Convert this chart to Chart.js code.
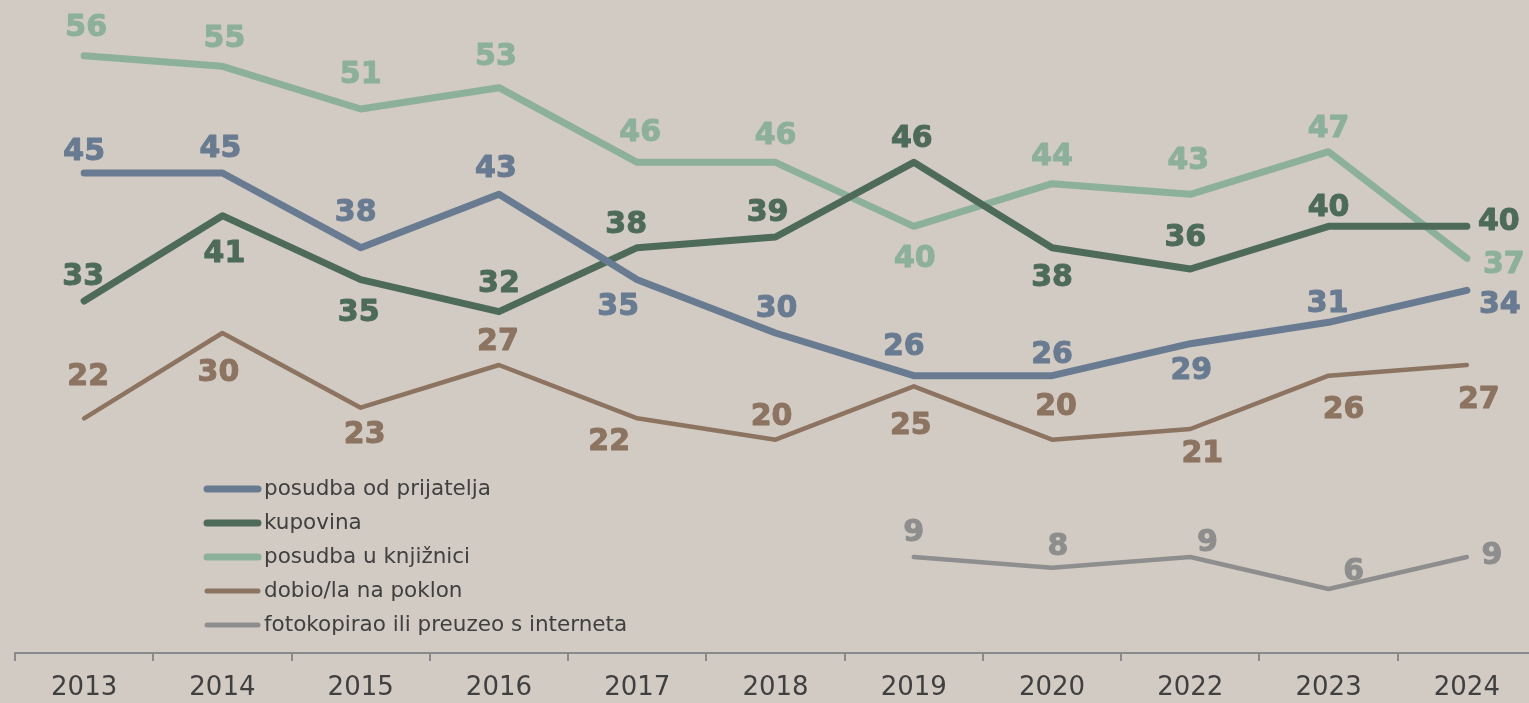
<!DOCTYPE html>
<html>
<head>
<meta charset="utf-8">
<script src="https://cdn.jsdelivr.net/npm/chart.js@4"></script>
<style>
    html, body { margin: 0; padding: 0; background: #d2cbc4; overflow: hidden; }
    #chart { display: block; }
</style>
</head>
<body>
<canvas id="chart" width="1537" height="703"></canvas>
<script>
// Data
const years = ['2013', '2014', '2015', '2016', '2017', '2018', '2019', '2020', '2022', '2023', '2024'];

const posudbaPrijatelj = [45, 45, 38, 43, 35, 30, 26, 26, 29, 31, 34];
const kupovina         = [33, 41, 35, 32, 38, 39, 46, 38, 36, 40, 40];
const posudbaKnjiznica = [56, 55, 51, 53, 46, 46, 40, 44, 43, 47, 37];
const poklon           = [22, 30, 23, 27, 22, 20, 25, 20, 21, 26, 27];
const fotokopija       = [null, null, null, null, null, null, 9, 8, 9, 6, 9];

// value label nudges (px from the point to the label's centre)
const nudgePrijatelj = { dx: [0, -2, -5, -3, -19, 1, -10, 0, 1, -1, 33], dy: [-24, -27, -38, -28, 24, -27, -32, -24, 24, -21, 12] };
const nudgeKupovina  = { dx: [-1, 2, -2, 0, -11, -8, -2, 0, -5, 0, 32], dy: [-27, 35, 30, -31, -26, -27, -26, 27, -34, -21, -7] };
const nudgeKnjiznica = { dx: [2, 2, 0, -3, 3, 0, 1, 0, -2, 0, 37], dy: [-31, -30, -37, -34, -32, -29, 30, -30, -36, -26, 4] };
const nudgePoklon    = { dx: [4, -4, 4, -1, -28, -4, -3, 4, 12, 15, 12], dy: [-44, 37, 24, -26, 21, -26, 37, -36, 22, 31, 32] };
const nudgeFoto      = { dx: [0, 0, 0, 0, 0, 0, 0, 6, 17, 25, 25], dy: [0, 0, 0, 0, 0, 0, -27, -24, -17, -20, -4] };

const FONT = '"DejaVu Sans", Verdana, sans-serif';
const TEXT = '#404040';

function series(label, data, color, width, nudge) {
    return {
        label, data,
        borderColor: color,
        backgroundColor: color,
        borderWidth: width,
        borderCapStyle: 'round',
        borderJoinStyle: 'round',
        pointRadius: 0,
        tension: 0,
        spanGaps: false,
        clip: false,
        nudge
    };
}

/**
 * valueLabels
 * Writes each point's value next to it, in the line colour.
 */
const valueLabels = {
    id: 'valueLabels',
    afterDatasetsDraw(chart) {
        const ctx = chart.ctx;
        ctx.save();
        ctx.font = 'bold 30px ' + FONT;
        ctx.textBaseline = 'alphabetic';
        ctx.textAlign = 'center';
        ctx.lineWidth = 1;
        ctx.lineJoin = 'round';
        chart.data.datasets.forEach((ds, i) => {
            const meta = chart.getDatasetMeta(i);
            meta.data.forEach((pt, j) => {
                const v = ds.data[j];
                if (v === null || v === undefined) return;
                const x = pt.x + ds.nudge.dx[j];
                const y = pt.y + ds.nudge.dy[j] + 11; // baseline = centre + half cap height
                ctx.fillStyle = ds.borderColor;
                ctx.strokeStyle = ds.borderColor; // a thin outline to match the heavier bold
                ctx.fillText(String(v), x, y);
                ctx.strokeText(String(v), x, y);
            });
        });
        ctx.restore();
    }
};

/**
 * insideLegend
 * Legend block drawn inside the plot, lower left.
 */
const insideLegend = {
    id: 'insideLegend',
    afterDraw(chart) {
        const ctx = chart.ctx;
        ctx.save();
        ctx.font = '21.5px ' + FONT;
        ctx.textBaseline = 'middle';
        ctx.textAlign = 'left';
        chart.data.datasets.forEach((ds, i) => {
            const y = 489 + i * 34;
            ctx.strokeStyle = ds.borderColor;
            ctx.lineWidth = i < 3 ? 7 : 5;
            ctx.lineCap = 'round';
            ctx.beginPath();
            ctx.moveTo(207, y);
            ctx.lineTo(258, y);
            ctx.stroke();
            ctx.fillStyle = TEXT;
            ctx.fillText(ds.label, 264, y);
        });
        ctx.restore();
    }
};

new Chart(document.getElementById('chart'), {
    type: 'line',
    data: {
        labels: years,
        datasets: [
            series('posudba od prijatelja', posudbaPrijatelj, '#697b91', 7, nudgePrijatelj),
            series('kupovina', kupovina, '#4e6b5a', 7, nudgeKupovina),
            series('posudba u knjižnici', posudbaKnjiznica, '#8db09b', 7, nudgeKnjiznica),
            series('dobio/la na poklon', poklon, '#8c7461', 4.5, nudgePoklon),
            series('fotokopirao ili preuzeo s interneta', fotokopija, '#8e8e8e', 4.5, nudgeFoto)
        ]
    },
    options: {
        responsive: false,
        animation: false,
        layout: { padding: { left: 15, right: 1, top: 13, bottom: 0 } },
        plugins: {
            legend: { display: false },
            tooltip: { enabled: false }
        },
        scales: {
            x: {
                offset: true,
                afterFit: s => { s.height = 50; },
                grid: {
                    offset: true,
                    drawOnChartArea: false,
                    color: '#8a8a8a',
                    lineWidth: 2,
                    tickLength: 8
                },
                border: { color: '#8a8a8a', width: 2 },
                ticks: {
                    color: TEXT,
                    font: { family: FONT, size: 26 },
                    padding: 12,
                    maxRotation: 0
                }
            },
            y: {
                display: false,
                min: 0,
                max: 60
            }
        }
    },
    plugins: [valueLabels, insideLegend]
});
</script>
</body>
</html>
